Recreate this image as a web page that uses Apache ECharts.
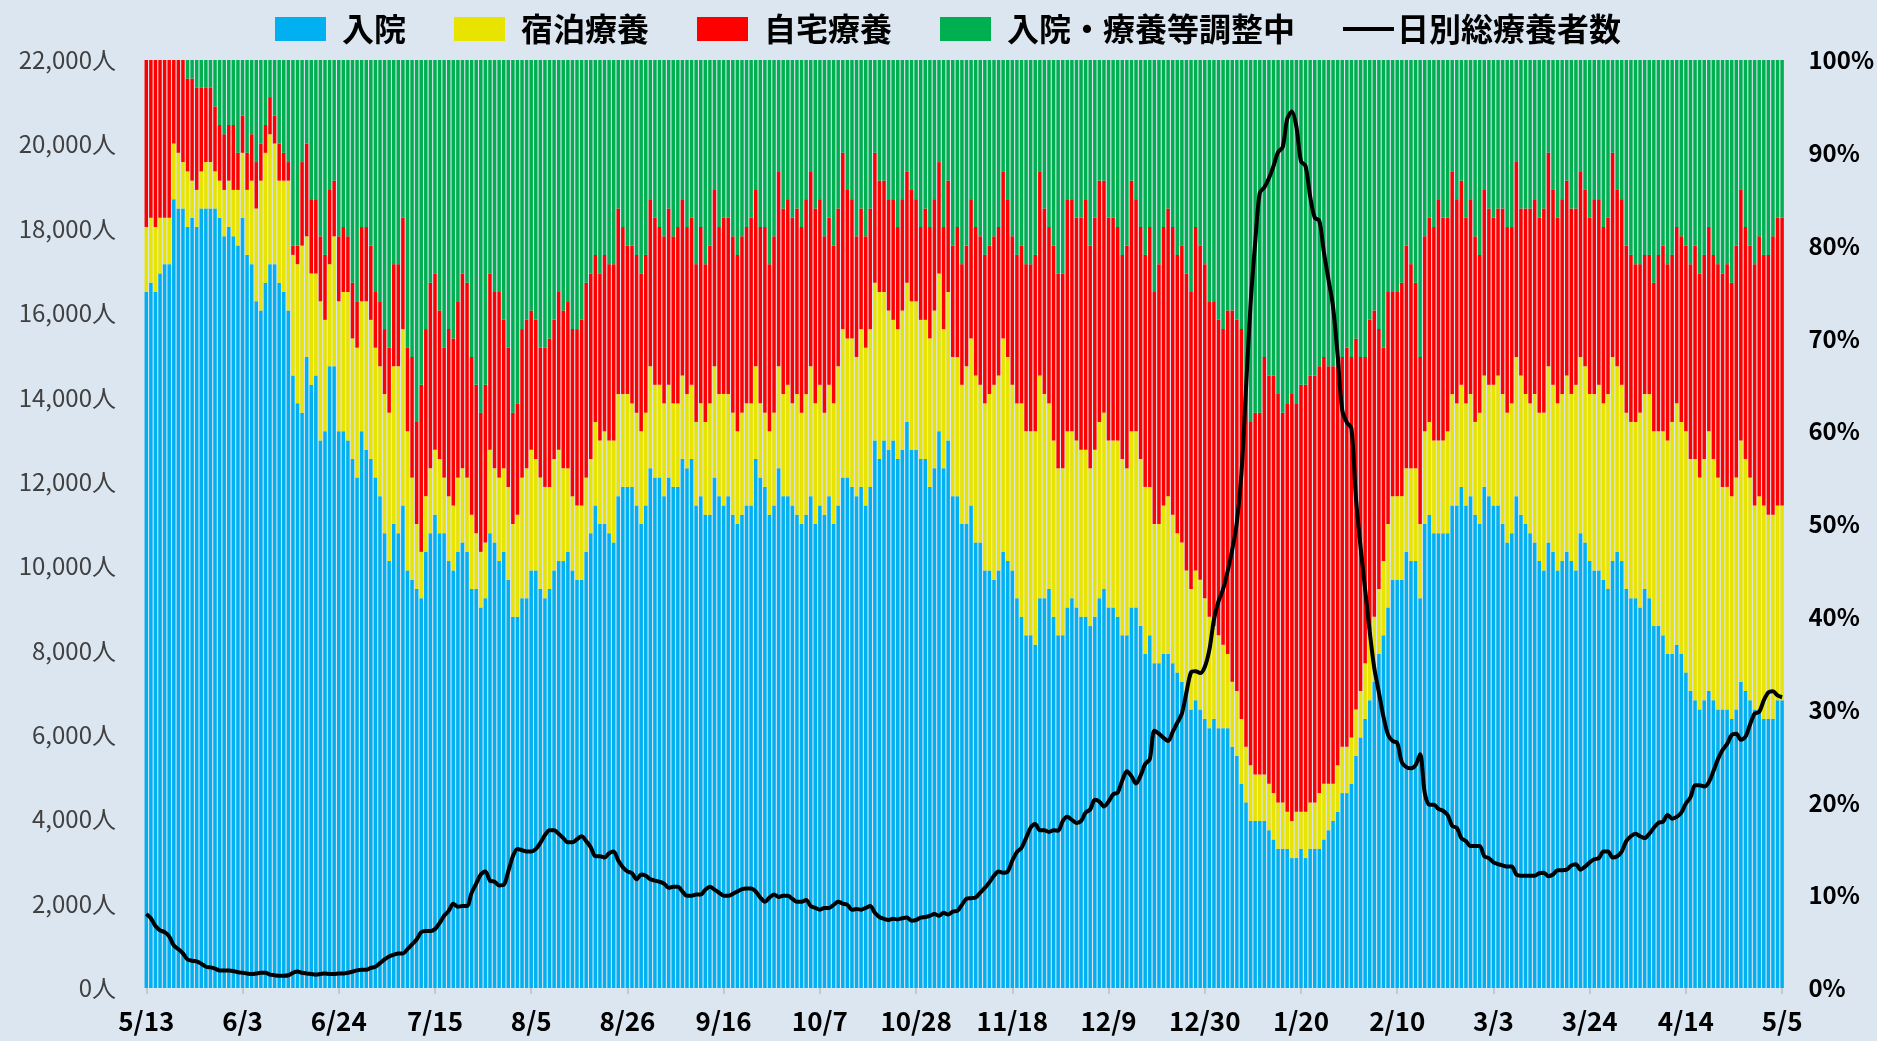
<!DOCTYPE html>
<html><head><meta charset="utf-8">
<script src="https://cdn.jsdelivr.net/npm/echarts@6/dist/echarts.min.js"></script>
<style>html,body{margin:0;padding:0;background:#dce6f1;}#c{width:1877px;height:1041px;}</style>
</head><body><div id="c"></div>
<script>
// First day of the series (2020-05-13), one bar per day, 358 days to 2021-05-05
const startYear = 2020, startMonth = 5, startDay = 13, dayCount = 358;

// 入院 (%)
const hospital = [75,76,75,77,78,78,85,84,84,82,83,82,84,84,84,84,83,81,82,81,80,83,79,78,74,73,76,78,78,76,75,73,66,63,62,68,65,66,59,60,67,67,60,60,59,57,55,60,58,57,55,53,49,46,50,49,52,45,44,43,42,47,49,51,49,49,46,45,47,48,47,43,43,41,42,49,48,46,47,44,40,40,42,42,45,45,43,42,43,45,46,46,47,45,44,44,47,49,52,50,50,49,48,53,54,54,54,52,50,52,56,55,55,53,55,54,54,57,56,57,52,53,51,51,55,53,52,53,51,50,51,52,52,57,55,54,51,52,56,53,53,52,51,50,51,53,50,52,51,53,50,52,55,55,54,53,54,52,54,59,57,59,58,59,57,58,61,58,58,57,57,54,56,60,56,59,53,53,50,50,52,48,48,45,45,44,45,47,46,45,42,40,38,38,37,42,42,43,40,38,38,41,42,41,40,40,39,40,42,43,41,41,40,38,38,41,41,39,36,38,35,35,36,36,35,34,33,32,30,31,30,29,28,29,28,28,28,26,25,22,20,18,18,18,18,17,16,15,15,15,14,14,15,14,15,15,15,16,17,18,19,21,21,22,25,27,29,31,33,36,38,41,44,44,44,47,46,46,42,50,51,49,49,49,49,52,52,54,52,53,51,50,54,53,52,52,50,48,49,53,51,50,49,48,46,45,48,47,45,46,47,46,45,49,48,46,45,45,44,43,46,47,46,43,42,42,41,43,42,39,39,38,36,36,37,36,34,32,31,30,31,32,31,30,30,30,29,30,33,32,31,30,30,29,29,29,31,31];
// 宿泊療養 (%)
const hotel = [7,7,7,6,5,5,6,6,5,6,4,4,4,5,5,4,4,5,5,5,6,7,7,9,10,14,14,14,13,11,12,14,13,15,18,13,12,11,15,12,11,14,14,15,16,13,14,14,16,15,14,14,15,16,17,18,19,15,11,7,5,6,7,7,8,6,7,7,8,8,8,8,6,6,6,9,8,9,9,10,10,11,13,14,13,12,12,12,11,12,12,10,9,8,8,8,8,8,9,9,10,10,11,11,10,10,9,10,10,10,11,10,10,10,10,9,9,9,8,8,9,10,10,12,12,11,12,11,11,10,11,11,11,10,8,8,9,10,11,11,12,11,13,12,13,14,13,13,11,12,13,15,16,15,16,15,17,17,17,17,18,16,15,13,14,15,15,16,16,15,15,16,17,17,15,16,15,15,15,17,18,18,17,18,19,21,21,23,22,20,21,23,22,22,23,24,22,20,19,18,18,19,18,18,18,18,17,18,19,19,18,18,19,19,18,19,19,18,18,16,15,15,16,17,16,15,15,13,13,14,14,13,12,10,10,9,8,7,7,7,6,6,5,5,5,5,5,5,5,4,4,5,4,5,5,5,6,6,5,4,5,5,5,5,5,5,6,7,7,7,8,9,9,9,9,9,10,10,8,10,10,10,10,10,11,12,11,11,11,11,10,12,12,12,13,14,14,14,14,15,15,14,14,16,16,17,19,18,18,18,19,18,20,19,19,18,19,20,19,21,22,20,19,19,19,19,21,21,22,21,21,22,23,25,26,25,26,25,26,25,26,28,26,25,24,24,24,25,26,25,24,22,23,23,22,22,21,21];
// 自宅療養 (%)
const home = [18,17,18,17,17,17,9,10,11,10,11,11,9,8,8,7,6,6,6,7,4,4,4,5,5,4,3,4,3,4,3,2,1,2,9,10,8,8,7,7,8,6,7,7,6,6,5,8,8,8,6,7,7,7,11,11,12,9,13,11,18,18,20,19,16,14,18,18,19,21,21,17,16,15,17,19,19,20,16,15,12,12,16,16,15,15,14,15,16,15,17,17,18,18,19,20,21,20,18,18,19,19,19,20,18,16,17,17,17,17,18,18,17,18,19,18,19,19,18,18,17,19,17,17,19,18,19,19,19,19,19,19,20,19,19,20,18,19,21,20,20,20,20,20,21,21,21,20,19,18,17,17,19,16,15,13,13,12,13,14,12,12,12,13,11,12,12,12,11,10,12,12,12,12,11,12,12,14,13,13,15,16,16,16,16,16,16,18,17,16,16,17,18,18,19,22,20,19,21,21,21,25,25,24,25,27,24,25,26,25,24,24,23,22,24,27,25,25,25,28,25,28,30,31,31,30,32,32,32,37,36,36,34,35,34,34,37,40,40,42,38,37,39,39,45,44,45,44,42,44,46,44,46,46,46,46,46,46,45,45,43,42,43,41,40,36,33,34,33,28,23,25,22,22,23,24,22,20,18,21,22,23,26,24,23,24,22,22,20,21,20,17,20,19,18,18,20,20,19,21,18,20,21,21,21,22,23,21,20,21,21,20,19,20,19,19,21,20,19,19,22,19,20,18,18,17,16,15,15,16,19,20,19,18,19,20,20,21,23,22,22,22,22,23,23,24,23,25,27,25,25,26,28,27,28,30,31,31];
// 入院・療養等調整中 (%)
const adjusting = [0,0,0,0,0,0,0,0,0,2,2,3,3,3,3,5,7,8,7,7,10,6,10,8,11,9,7,4,6,9,10,11,20,20,11,9,15,15,19,21,14,13,19,18,19,24,26,18,18,20,25,26,29,31,22,22,17,31,32,39,35,29,24,23,27,31,29,30,26,23,24,32,35,38,35,23,25,25,28,31,38,37,29,28,27,28,31,31,30,28,25,27,26,29,29,28,24,23,21,23,21,22,22,16,18,20,20,21,23,21,15,17,18,19,16,19,18,15,18,17,22,18,22,20,14,18,17,17,19,21,19,18,17,14,18,18,22,19,12,16,15,17,16,18,15,12,16,15,19,17,20,16,10,14,15,19,16,19,16,10,13,13,15,15,18,15,12,14,15,18,16,18,15,11,18,13,20,18,22,20,15,18,19,21,20,19,18,12,15,19,21,20,22,22,21,12,16,18,20,23,23,15,15,17,17,15,20,17,13,13,17,17,18,21,20,13,15,18,21,18,25,22,18,16,18,21,20,23,25,18,20,22,26,26,28,29,27,27,28,29,36,39,38,38,32,34,34,36,38,37,36,37,35,35,34,34,33,32,33,33,33,32,31,32,30,32,32,28,27,29,31,25,25,25,24,20,22,24,32,19,17,18,15,17,17,12,15,13,17,15,19,21,14,16,17,16,16,18,18,11,16,16,16,15,17,16,10,14,17,15,13,16,16,12,14,17,15,15,18,17,10,14,15,20,21,22,22,21,21,24,21,20,22,21,18,19,20,22,20,23,21,18,21,22,23,22,24,20,14,18,20,22,19,21,21,19,17,17];
// 日別総療養者数 (人)
const totalPatients = [1755,1655,1468,1367,1324,1223,1007,921,820,676,648,633,576,504,489,460,417,417,417,403,374,360,345,331,345,360,360,317,302,288,288,302,360,389,360,345,331,317,331,345,331,331,345,345,360,389,417,432,432,475,504,590,676,748,791,820,820,921,1036,1151,1324,1353,1353,1396,1540,1712,1828,2000,1928,1943,1943,2259,2475,2691,2763,2547,2518,2432,2446,2763,3123,3295,3267,3238,3238,3295,3439,3626,3741,3741,3655,3554,3454,3454,3526,3598,3482,3338,3123,3123,3094,3195,3238,3022,2864,2763,2720,2576,2691,2662,2576,2547,2518,2475,2374,2403,2403,2288,2187,2187,2216,2216,2331,2403,2331,2259,2187,2187,2230,2288,2345,2360,2360,2288,2144,2043,2144,2216,2159,2187,2187,2115,2043,2043,2087,1943,1899,1856,1899,1899,1971,2043,2000,1971,1856,1871,1856,1899,1943,1784,1684,1640,1612,1640,1626,1655,1669,1597,1612,1669,1684,1712,1756,1712,1784,1741,1813,1828,1971,2115,2130,2144,2259,2374,2504,2662,2763,2734,2763,3022,3223,3324,3554,3799,3885,3741,3741,3698,3741,3727,3957,4058,3986,3914,3957,4159,4231,4461,4418,4303,4418,4590,4634,4921,5137,5022,4849,5037,5310,5425,6101,6029,5929,5857,6073,6288,6504,7008,7483,7512,7468,7612,8015,8735,9166,9454,9886,10390,11037,12188,14203,16218,17657,18851,18980,19196,19484,19815,19930,20606,20779,20419,19599,19484,18765,18261,18189,17441,16793,16146,14994,13700,13411,13268,11613,10462,9454,8447,7583,7008,6432,6001,5857,5814,5353,5238,5209,5281,5540,4634,4346,4346,4245,4202,4101,3842,3799,3554,3482,3367,3367,3367,3123,3079,2979,2936,2907,2878,2878,2691,2662,2662,2662,2662,2720,2734,2648,2691,2792,2792,2806,2907,2936,2806,2878,2979,3051,3079,3238,3238,3094,3123,3238,3482,3598,3655,3598,3554,3655,3799,3914,3943,4101,4015,4058,4159,4375,4518,4806,4806,4777,4878,5137,5425,5641,5785,6001,6029,5886,5957,6245,6504,6547,6821,7008,7037,6936,6893];

const seriesNames = ['入院', '宿泊療養', '自宅療養', '入院・療養等調整中'];
const lineName = '日別総療養者数';
const barColors = ['#00b0f0', '#e8e400', '#ff0000', '#00b050'];

// category labels: one per day
const categories = [];
for (let i = 0; i < dayCount; i++) {
  const d = new Date(startYear, startMonth - 1, startDay + i);
  categories.push((d.getMonth() + 1) + '/' + d.getDate());
}

// 100% normalisation of the four shares
const shares = [hospital, hotel, home, adjusting];
const pct = shares.map(() => []);
for (let i = 0; i < dayCount; i++) {
  const s = hospital[i] + hotel[i] + home[i] + adjusting[i];
  shares.forEach((arr, k) => pct[k].push(arr[i] / s * 100));
}

const FONT = '"Noto Sans CJK JP", "Noto Sans", sans-serif';
function withComma(v) { return String(v).replace(/\B(?=(\d{3})+(?!\d))/g, ','); }

const chart = echarts.init(document.getElementById('c'), null, {renderer: 'canvas'});
const barSeries = seriesNames.map((n, k) => ({
  name: n, type: 'bar', stack: 'share', yAxisIndex: 1,
  data: pct[k], barCategoryGap: '24%',
  itemStyle: {color: barColors[k]}, emphasis: {disabled: true}
}));
chart.setOption({
  backgroundColor: '#dce6f1',
  animation: false,
  textStyle: {fontFamily: FONT},
  legend: {
    left: 270, top: 8, itemWidth: 51, itemHeight: 24, itemGap: 48,
    textStyle: {fontSize: 32, fontWeight: 'bold', color: '#000', fontFamily: FONT, padding: [0, 0, 0, 11]},
    data: [
      {name: seriesNames[0], icon: 'rect'},
      {name: seriesNames[1], icon: 'rect'},
      {name: seriesNames[2], icon: 'rect'},
      {name: seriesNames[3], icon: 'rect'},
      {name: lineName, icon: 'path://M0,0 L0,0 M0,10 L54,10 L54,14 L0,14 Z M0,24 L0,24',
       itemStyle: {color: '#000'}, textStyle: {padding: [0, 0, 0, -2]}}
    ]
  },
  grid: {left: 144, right: 91, top: 60, bottom: 53},
  xAxis: {
    type: 'category', data: categories, boundaryGap: true,
    axisLine: {show: false},
    axisTick: {show: true, interval: 20, alignWithLabel: true, length: 6, lineStyle: {color: '#c8c8c8', width: 2}},
    axisLabel: {interval: 20, margin: 20, fontSize: 26, fontWeight: 'bold', color: '#000', fontFamily: FONT}
  },
  yAxis: [
    {type: 'value', min: 0, max: 22000, interval: 2000, position: 'left',
     splitLine: {show: false}, axisLine: {show: false}, axisTick: {show: false},
     axisLabel: {margin: 28, fontSize: 24, color: '#404040', fontFamily: FONT, formatter: v => withComma(v) + '人'}},
    {type: 'value', min: 0, max: 100, interval: 10, position: 'right',
     splitLine: {show: false}, axisLine: {show: false}, axisTick: {show: false},
     axisLabel: {margin: 24, fontSize: 24, fontWeight: 'bold', color: '#000', fontFamily: FONT, formatter: '{value}%'}}
  ],
  series: barSeries.concat([{
    name: lineName, type: 'line', yAxisIndex: 0, data: totalPatients,
    symbol: 'none', smooth: 0.3, z: 10,
    lineStyle: {color: '#000', width: 4}, itemStyle: {color: '#000'}
  }])
});
</script></body></html>
